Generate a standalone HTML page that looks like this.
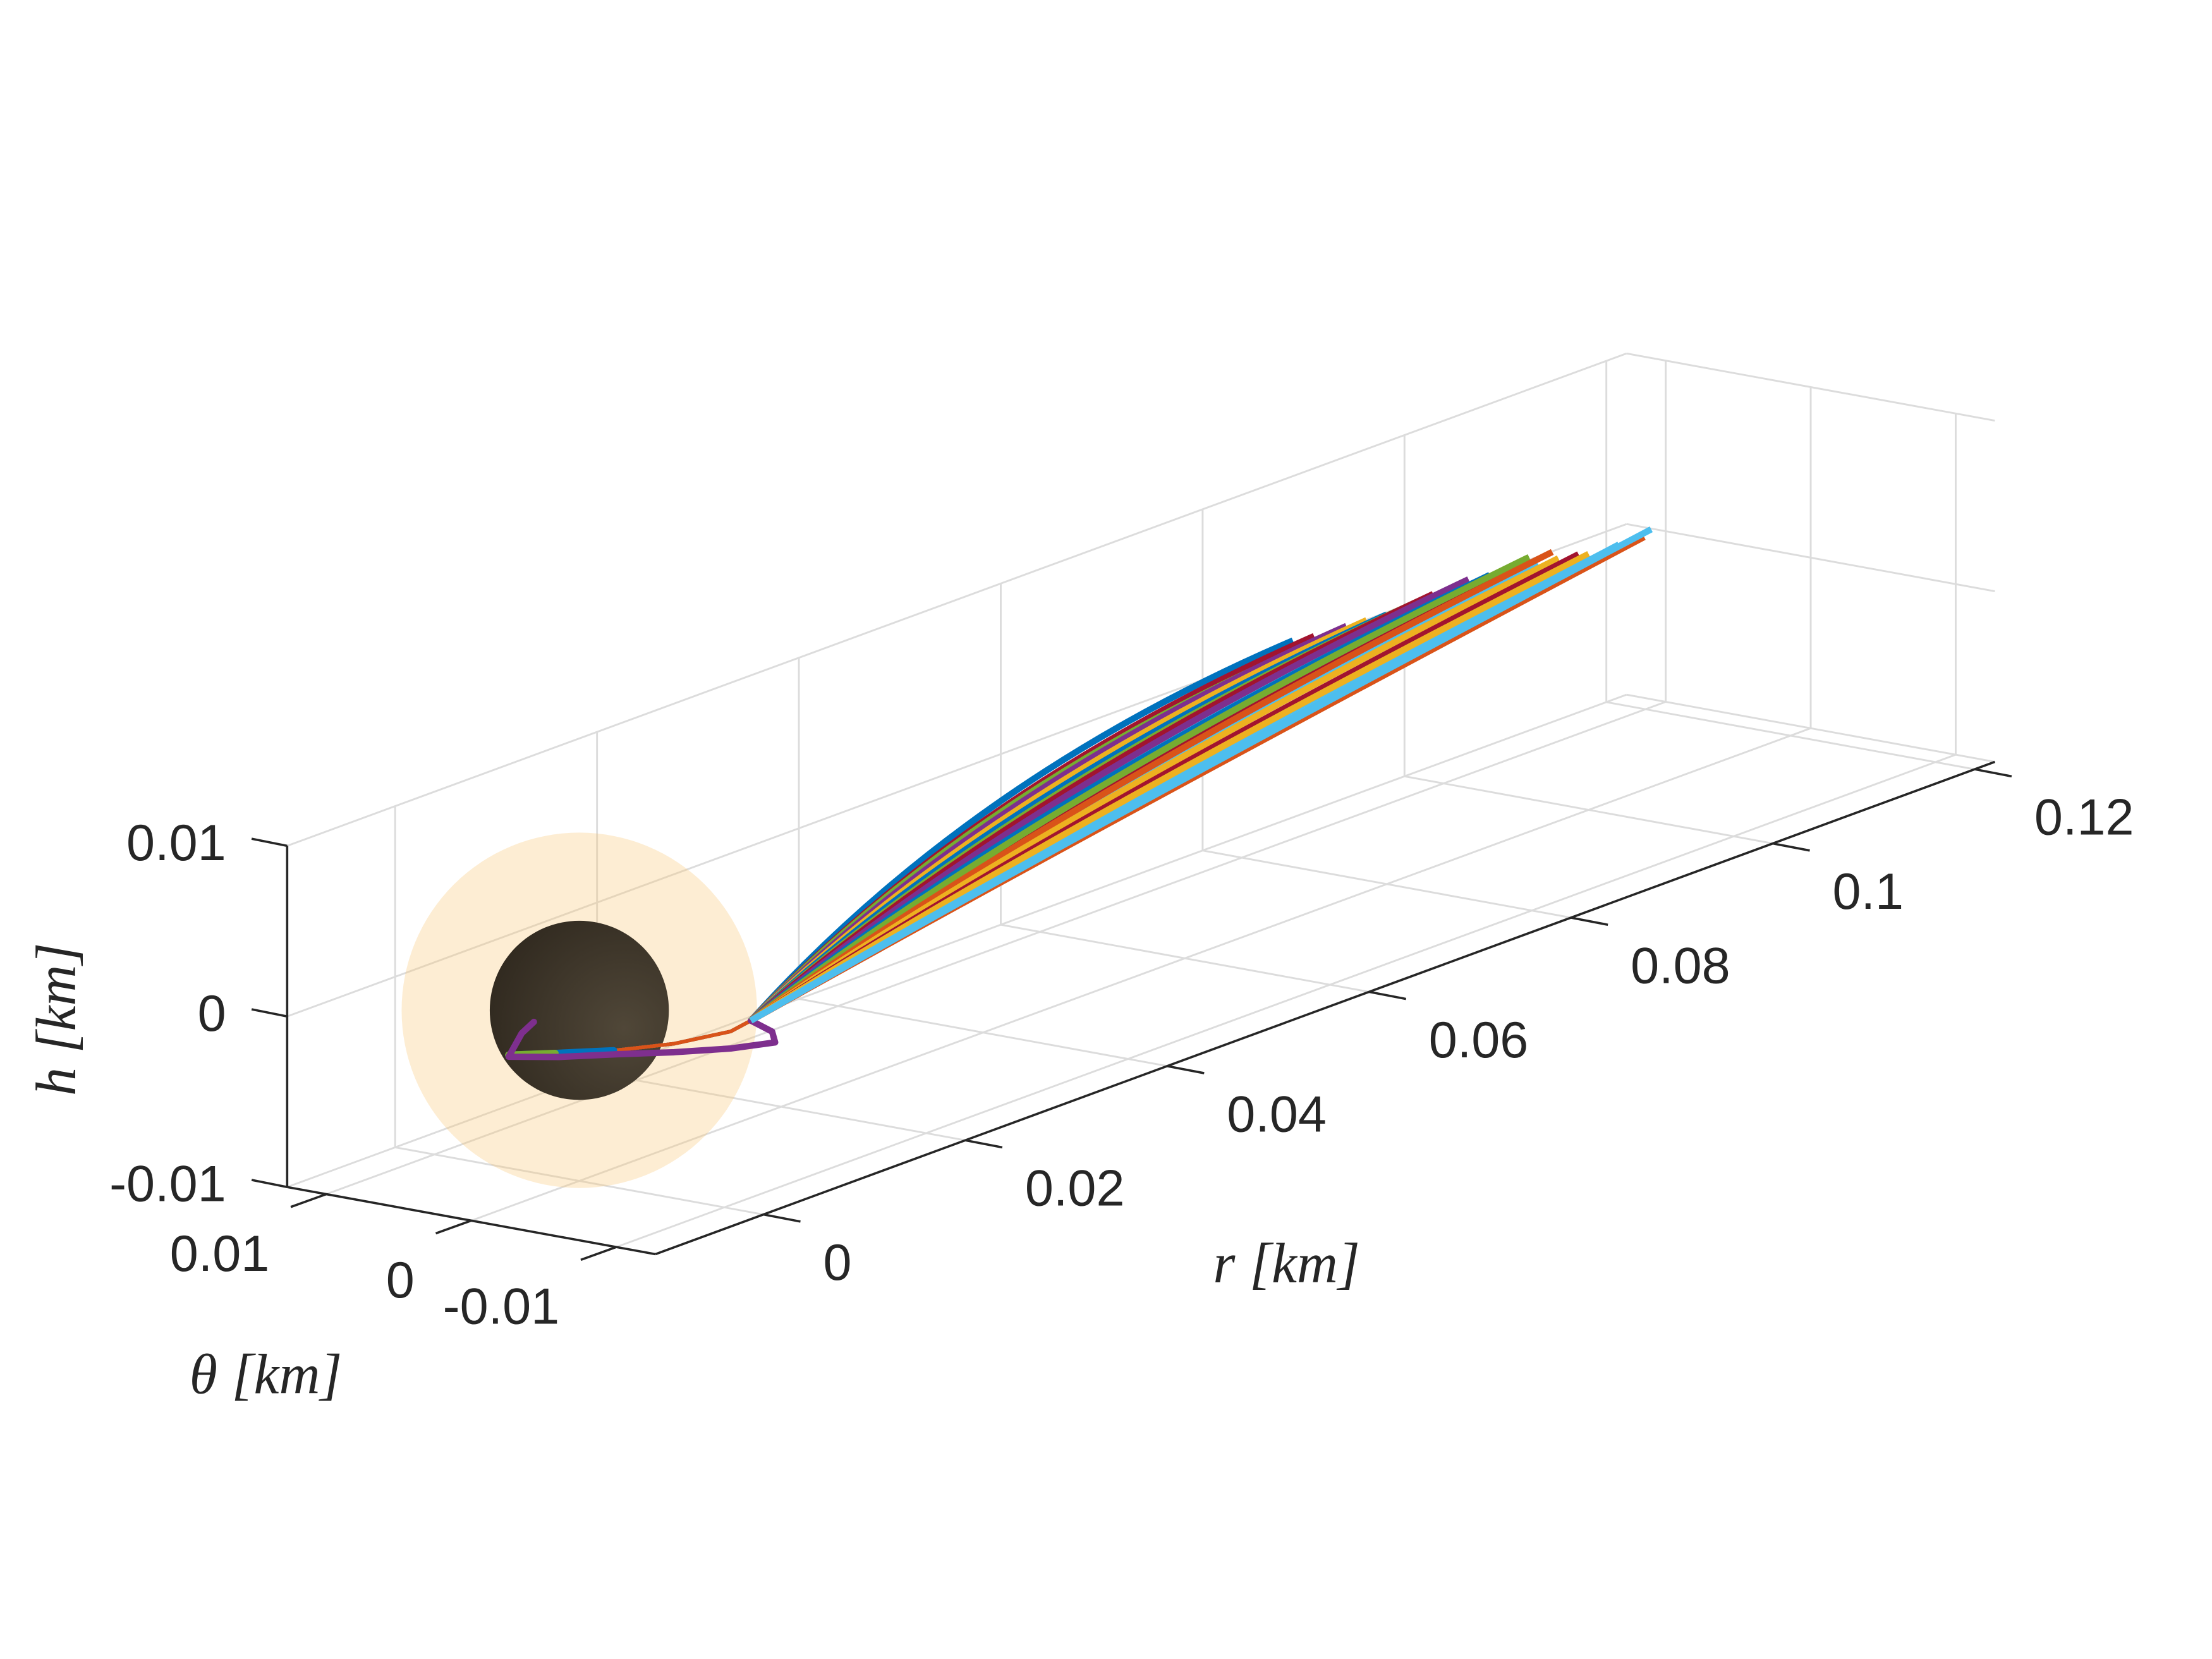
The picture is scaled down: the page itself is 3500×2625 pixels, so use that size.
<!DOCTYPE html>
<html><head><meta charset="utf-8"><style>
html,body{margin:0;padding:0;background:#fff;}
svg{display:block;}
text{font-family:"Liberation Sans",Arial,sans-serif;fill:#262626;}
.lab{font-family:"Liberation Serif","DejaVu Serif",serif;font-style:italic;}
</style></head><body>
<svg id="chart" width="3500" height="2625" viewBox="0 0 1556 1167" xmlns="http://www.w3.org/2000/svg">
<defs>
<radialGradient id="sph" cx="0.75" cy="0.6" r="0.8">
<stop offset="0" stop-color="#504738"/><stop offset="1" stop-color="#30291f"/>
</radialGradient>
</defs>
<g id="grid"></g>
<g id="axes"></g>
<circle id="halo" fill="rgb(250,200,120)" fill-opacity="0.33"/>
<circle id="sphere" fill="url(#sph)"/>
<g id="traj"></g>
<text class="lab" x="905" y="902" font-size="40" text-anchor="middle">r [km]</text>
<text class="lab" x="187" y="980" font-size="40" text-anchor="middle">θ [km]</text>
<text class="lab" transform="translate(53,717) rotate(-90)" font-size="40" text-anchor="middle">h [km]</text>
</svg>
<script>
// axis limits & ticks
const rLim=[-0.0107,0.122];
const tLim=[-0.0127,0.0127];
const hLim=[-0.01,0.01];
const rTicks=[0,0.02,0.04,0.06,0.08,0.1,0.12];
const rTickLabels=["0","0.02","0.04","0.06","0.08","0.1","0.12"];
const tTicks=[0.01,0,-0.01];
const tTickLabels=["0.01","0","-0.01"];
const hTicks=[-0.01,0,0.01];
const hTickLabels=["-0.01","0","0.01"];
// trajectory data
const endR=[0.0707,0.0728,0.0746,0.0760,0.0780,0.0800,0.0818,0.0830,0.0846,0.0860,0.0881,0.0890,0.0902,0.0915,0.0930,0.0941,0.0950,0.0964,0.0970,0.0978,0.0982,0.0990,0.1000,0.1030,0.1055,0.1062];
const endH=[0.0063,0.0061,0.0058,0.0060,0.0059,0.0058,0.0056,0.0059,0.0060,0.0058,0.0061,0.0057,0.0059,0.0056,0.0058,0.0061,0.0055,0.0059,0.0054,0.0050,0.0048,0.0052,0.0050,0.0049,0.0048,0.0051];
const bendH=[0.0026,0.0024,0.0025,0.0023,0.0022,0.0021,0.0018,0.0020,0.0019,0.0016,0.0018,0.0015,0.0016,0.0013,0.0014,0.0015,0.0011,0.0012,0.0010,0.0007,0.0006,0.0008,0.0007,0.0004,0.0002,0.0003];
const trajColor=["#0072BD","#A2142F","#77AC30","#7E2F8E","#EDB120","#0072BD","#D95319","#77AC30","#A2142F","#4DBEEE","#7E2F8E","#EDB120","#0072BD","#D95319","#A2142F","#77AC30","#4DBEEE","#D95319","#EDB120","#0072BD","#4DBEEE","#A2142F","#EDB120","#4DBEEE","#D95319","#4DBEEE"];
const startR=0.017, startH=-0.0043;
// near-sphere tails
const tailR=[0.017,0.015,0.0094,0.0034,-0.0024,-0.007];
const tailH=[-0.0043,-0.0045,-0.0040,-0.0031,-0.0020,-0.0011];
const loopR=[0.017,0.0191,0.0194,0.015,0.0094,0.0038,-0.002,-0.007,-0.0057,-0.0045];
const loopH=[-0.0043,-0.0054,-0.0061,-0.0055,-0.0045,-0.0034,-0.0023,-0.0012,-0.0001,0.0003];
const sphereR=0, sphereT=0, sphereH=0;

const O=[202,835];
const Rv=[7100,-2610], Tv=[10200,1860], Hv=[0,-12000];
function P(r,t,h){
  const a=r-rLim[0], b=tLim[1]-t, c=h-hLim[0];
  return [O[0]+a*Rv[0]+b*Tv[0]+c*Hv[0], O[1]+a*Rv[1]+b*Tv[1]+c*Hv[1]];
}
const NS="http://www.w3.org/2000/svg";
function line(g,p,q,stroke,w,name){
  const l=document.createElementNS(NS,"line");
  l.setAttribute("x1",p[0]);l.setAttribute("y1",p[1]);l.setAttribute("x2",q[0]);l.setAttribute("y2",q[1]);
  l.setAttribute("stroke",stroke);l.setAttribute("stroke-width",w);
  
  
  g.appendChild(l);
}
function txt(g,x,y,s,anchor,name){
  const t=document.createElementNS(NS,"text");
  t.setAttribute("x",x);t.setAttribute("y",y);t.setAttribute("font-size","36");
  t.setAttribute("text-anchor",anchor);t.setAttribute("dominant-baseline","central");
  t.textContent=s;
  
  
  g.appendChild(t);
}
const grid=document.getElementById("grid"), axes=document.getElementById("axes");
const gc="#dcdcdc";
rTicks.forEach(r=>line(grid,P(r,tLim[1],hLim[0]),P(r,tLim[1],hLim[1]),gc,1.3,"gridline-r-back"));
hTicks.forEach(h=>line(grid,P(rLim[0],tLim[1],h),P(rLim[1],tLim[1],h),gc,1.3,"gridline-h-back"));
rTicks.forEach(r=>line(grid,P(r,tLim[1],hLim[0]),P(r,tLim[0],hLim[0]),gc,1.3,"gridline-r-floor"));
tTicks.forEach(t=>line(grid,P(rLim[0],t,hLim[0]),P(rLim[1],t,hLim[0]),gc,1.3,"gridline-theta-floor"));
tTicks.forEach(t=>line(grid,P(rLim[1],t,hLim[0]),P(rLim[1],t,hLim[1]),gc,1.3,"gridline-theta-wall"));
hTicks.forEach(h=>line(grid,P(rLim[1],tLim[1],h),P(rLim[1],tLim[0],h),gc,1.3,"gridline-h-wall"));
const ac="#262626";
line(axes,P(rLim[0],tLim[1],hLim[0]),P(rLim[0],tLim[1],hLim[1]),ac,1.6,"h-axis-line");
line(axes,P(rLim[0],tLim[1],hLim[0]),P(rLim[0],tLim[0],hLim[0]),ac,1.6,"theta-axis-line");
line(axes,P(rLim[0],tLim[0],hLim[0]),P(rLim[1],tLim[0],hLim[0]),ac,1.6,"r-axis-line");
rTicks.forEach((r,i)=>{const p=P(r,tLim[0],hLim[0]);line(axes,p,[p[0]+26,p[1]+5],ac,1.6,"r-tick");txt(axes,p[0]+42,p[1]+34,rTickLabels[i],"start","r-tick-label");});
tTicks.forEach((t,i)=>{const p=P(rLim[0],t,hLim[0]);line(axes,p,[p[0]-25,p[1]+9],ac,1.6,"theta-tick");txt(axes,p[0]-40,p[1]+42,tTickLabels[i],"end","theta-tick-label");});
hTicks.forEach((h,i)=>{const p=P(rLim[0],tLim[1],h);line(axes,p,[p[0]-25,p[1]-5],ac,1.6,"h-tick");txt(axes,p[0]-43,p[1]-2,hTickLabels[i],"end","h-tick-label");});
const c=P(sphereR,sphereT,sphereH);
const halo=document.getElementById("halo");halo.setAttribute("cx",c[0]);halo.setAttribute("cy",c[1]);halo.setAttribute("r",125);
const sp=document.getElementById("sphere");sp.setAttribute("cx",c[0]);sp.setAttribute("cy",c[1]);sp.setAttribute("r",63);
const tg=document.getElementById("traj");
function poly(rs,hs,col,w,name){
  const pl=document.createElementNS(NS,"polyline");
  pl.setAttribute("points",rs.map((r,i)=>P(r,0,hs[i]).join(",")).join(" "));
  pl.setAttribute("fill","none");pl.setAttribute("stroke",col);pl.setAttribute("stroke-width",w);
  pl.setAttribute("stroke-linejoin","round");pl.setAttribute("stroke-linecap","round");
  
  
  tg.appendChild(pl);
}
trajColor.forEach((col,i)=>{ if(i%3==0) poly(tailR,tailH,col,2.5,"trajectory-tail"); });
poly(tailR.slice(3),tailH.slice(3),"#0072BD",5,"trajectory-tail-blue");
poly(tailR.slice(4),tailH.slice(4),"#77AC30",5,"trajectory-tail-green");
poly(loopR,loopH,"#7E2F8E",4.5,"trajectory-loop-purple");
endR.forEach((rE,i)=>{
  const hE=endH[i];
  const rc=startR+0.4*(rE-startR);
  const hc=startH+0.4*(hE-startH)+2*bendH[i];
  const p0=P(startR,0,startH), p1=P(rc,0,hc), p2=P(rE,0,hE);
  const path=document.createElementNS(NS,"path");
  path.setAttribute("d",`M${p0[0]},${p0[1]} Q${p1[0]},${p1[1]} ${p2[0]},${p2[1]}`);
  path.setAttribute("fill","none");path.setAttribute("stroke",trajColor[i]);path.setAttribute("stroke-width",4.5);
  
  
  tg.appendChild(path);
});
</script>
</body></html>
